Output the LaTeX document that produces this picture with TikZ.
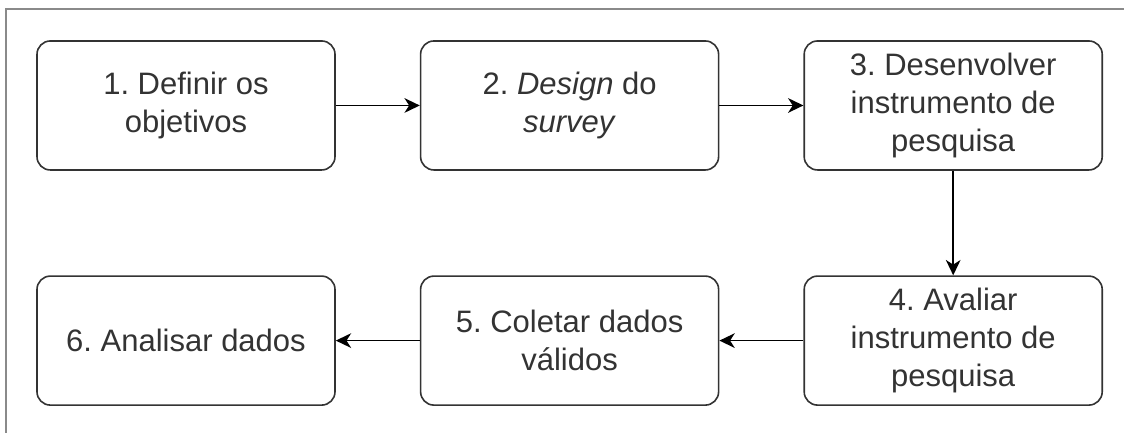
\documentclass[tikz,border=0pt]{standalone}
\usepackage{fontspec}
\setmainfont{Liberation Sans}
\usepackage{xcolor}
\usepackage{tikz}
\usetikzlibrary{positioning,arrows.meta}
\frenchspacing

\definecolor{boxline}{HTML}{333333}
\definecolor{boxtext}{HTML}{333333}
\definecolor{framegray}{HTML}{8A8A8A}

\begin{document}
\begin{tikzpicture}[node distance=63pt,
    stepbox/.style={draw=boxline, line width=1.2pt, rounded corners=10pt, fill=white,
        minimum width=223.5pt, minimum height=96.75pt, inner sep=0pt, align=center,
        text=boxtext, font=\fontsize{23.25pt}{28.5pt}\selectfont},
    flow/.style={->, >={Stealth[length=11.5pt, width=11pt, inset=3.5pt]}, line width=1.2pt, draw=black}]
                \path[use as bounding box, clip] (0,0) rectangle (843pt,-324pt);
                \draw[framegray, line width=1pt] (4.5pt,-6.75pt) rectangle (860pt,-340pt);

                \node (def) [stepbox] at (139.5pt,-79.1pt) {1. Definir os\\objetivos};
                \node (design) [stepbox, right=of def] {2. \textit{Design} do\\\textit{survey}};
                \node (dev) [stepbox, right=of design] {3. Desenvolver\\instrumento de\\pesquisa};
                \node (eval) [stepbox, below=78.4pt of dev] {4. Avaliar\\instrumento de\\pesquisa};
                \node (collect) [stepbox, left=of eval] {5. Coletar dados\\válidos};
                \node (analyse) [stepbox, left=of collect] {6. Analisar dados};

                \draw[flow] (def) -- (design);
                \draw[flow] (design) -- (dev);
                \draw[flow] (dev) -- (eval);
                \draw[flow] (eval) -- (collect);
                \draw[flow] (collect) -- (analyse);
            \end{tikzpicture}
\end{document}
